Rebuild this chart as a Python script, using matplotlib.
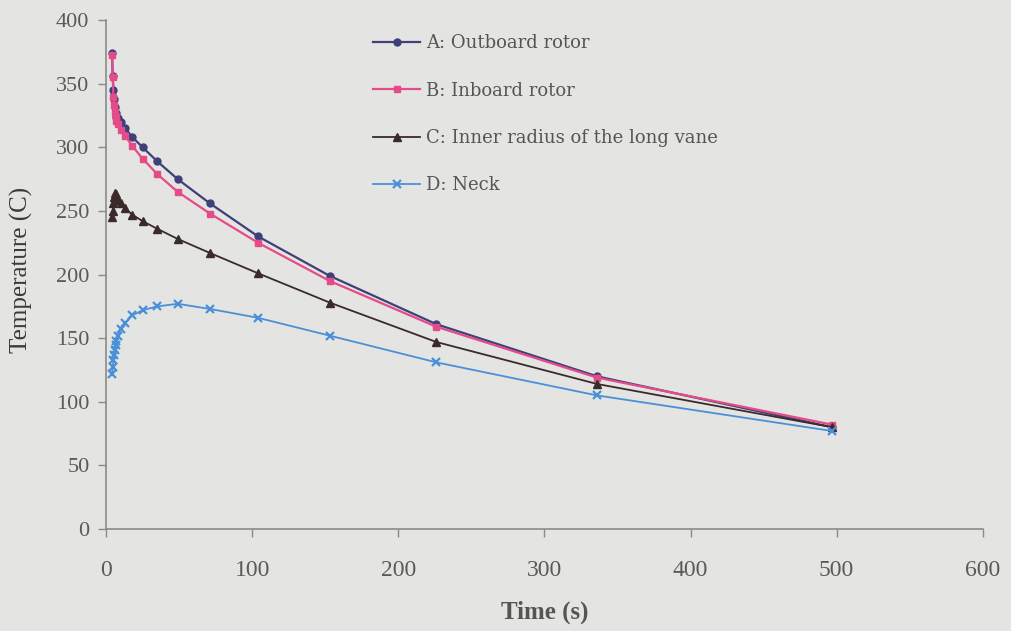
import numpy as np
import matplotlib.pyplot as plt

# time steps (s)
time_s = [4, 4.5, 5, 5.5, 6, 6.5, 7, 8, 10, 13, 18, 25, 35, 49, 71, 104, 153, 226, 336, 497]

# temperatures (C)
outboard_rotor = [374, 356, 345, 338, 332, 327, 324, 323, 320, 315, 308, 300, 289, 275, 256, 230, 199, 161, 120, 80]
inboard_rotor = [373, 355, 340, 333, 328, 324, 321, 318, 314, 309, 301, 291, 279, 265, 248, 225, 195, 159, 119, 82]
long_vane = [245, 250, 256, 261, 264, 263, 261, 259, 256, 252, 247, 242, 236, 228, 217, 201, 178, 147, 114, 80]
neck = [122, 127, 133, 137, 141, 145, 148, 152, 157, 162, 168, 172, 175, 177, 173, 166, 152, 131, 105, 77]

labels = ["A: Outboard rotor", "B: Inboard rotor",
          "C: Inner radius of the long vane", "D: Neck"]

plt.rcParams['font.family'] = ['Liberation Serif', 'DejaVu Serif']

bg = '#e4e4e2'
fig = plt.figure(figsize=(10.11, 6.31), dpi=100, facecolor=bg)
ax = fig.add_axes([0.105, 0.1617, 0.867, 0.8063])
ax.set_facecolor(bg)

#series styles
ax.plot(time_s, outboard_rotor, color='#3d4079', marker='o', ms=5, lw=1.6, label=labels[0])
ax.plot(time_s, inboard_rotor, color='#e44b88', marker='s', ms=4, lw=1.6, label=labels[1])
ax.plot(time_s, long_vane, color='#3a2a2a', marker='^', ms=6, lw=1.3, label=labels[2])
ax.plot(time_s, neck, color='#4a90d8', marker='x', ms=6, mew=1.6, lw=1.3, label=labels[3])

ax.set_xlim(0, 600)
ax.set_ylim(0, 400)
ax.set_xticks(np.arange(0, 601, 100))
ax.set_yticks(np.arange(0, 401, 50))

for s in ['top', 'right']:
    ax.spines[s].set_visible(False)
for s in ['left', 'bottom']:
    ax.spines[s].set_color('#8a8a8a')
    ax.spines[s].set_linewidth(1.2)

ax.tick_params(axis='x', colors='#8a8a8a', labelcolor='#5a5a5a', labelsize=17,
               length=6, width=1, pad=16)
ax.tick_params(axis='y', colors='#8a8a8a', labelcolor='#5a5a5a', labelsize=16,
               length=6, width=1, pad=6)

ax.set_xlabel('Time (s)', fontsize=18, fontweight='bold', color='#555555')
ax.set_ylabel('Temperature (C)', fontsize=18, color='#3a3a3a')
ax.xaxis.set_label_coords(0.5, -0.14)
ax.yaxis.set_label_coords(-0.084, 0.509)

ax.legend(loc='upper left', bbox_to_anchor=(0.286, 1.004), frameon=False,
          prop={'family': 'DejaVu Serif', 'size': 13},
          labelspacing=1.62, handlelength=2.6, handletextpad=0.35, labelcolor='#555555')

fig.savefig('out.png', dpi=100, facecolor=bg)
